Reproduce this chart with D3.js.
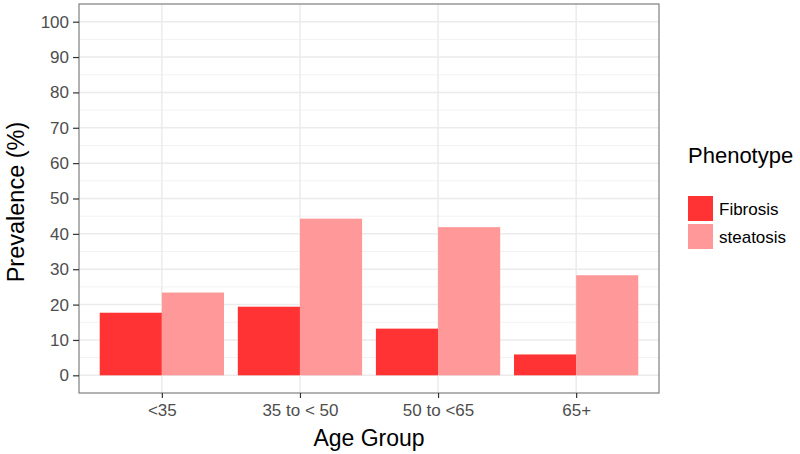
<!DOCTYPE html>
<html>
<head>
<meta charset="utf-8">
<script src="https://cdn.jsdelivr.net/npm/d3@7"></script>
<style>
  body { margin: 0; background: #fff; }
  text { font-family: "Liberation Sans", Arial, sans-serif; }
</style>
</head>
<body>
<div class="core_div"></div>
<script>
// data
var ageGroups = ["<35", "35 to < 50", "50 to <65", "65+"];
var phenotypes = ["Fibrosis", "steatosis"];
var fibrosis = [17.7, 19.4, 13.2, 5.9];
var steatosis = [23.4, 44.3, 41.9, 28.3];
var yTicks = [0, 10, 20, 30, 40, 50, 60, 70, 80, 90, 100];
var colours = ["#FF3333", "#FF9999"];

var width = 800, height = 454;
// panel box
var panel = {left: 79, right: 659, top: 4, bottom: 393};

var svg = d3.select(".core_div").append("svg")
    .attr("width", width)
    .attr("height", height);

var x = d3.scalePoint()
    .domain(ageGroups)
    .range([panel.left, panel.right])
    .padding(0.6);

var step = x.step();
var barW = step * 0.45;

var y = d3.scaleLinear()
    .domain([-5, 105])
    .range([panel.bottom, panel.top]);

// minor grid
var minor = d3.range(5, 105, 10);
svg.append("g").selectAll("line")
    .data(minor)
  .enter().append("line")
    .attr("x1", panel.left).attr("x2", panel.right)
    .attr("y1", function(d) { return y(d); })
    .attr("y2", function(d) { return y(d); })
    .style("stroke", "#f2f2f2").style("stroke-width", 1);

// major grid
svg.append("g").selectAll("line")
    .data(yTicks)
  .enter().append("line")
    .attr("x1", panel.left).attr("x2", panel.right)
    .attr("y1", function(d) { return y(d); })
    .attr("y2", function(d) { return y(d); })
    .style("stroke", "#ebebeb").style("stroke-width", 1.5);

svg.append("g").selectAll("line")
    .data(ageGroups)
  .enter().append("line")
    .attr("y1", panel.top).attr("y2", panel.bottom)
    .attr("x1", function(d) { return x(d); })
    .attr("x2", function(d) { return x(d); })
    .style("stroke", "#ebebeb").style("stroke-width", 1.5);

// bars
var series = [fibrosis, steatosis];
series.forEach(function(vals, s) {
  svg.append("g").selectAll("rect")
      .data(vals)
    .enter().append("rect")
      .attr("x", function(d, i) { return x(ageGroups[i]) - barW + s * barW; })
      .attr("width", barW)
      .attr("y", function(d) { return y(d); })
      .attr("height", function(d) { return y(0) - y(d); })
      .style("fill", colours[s]);
});

// panel border
svg.append("rect")
    .attr("x", panel.left).attr("y", panel.top)
    .attr("width", panel.right - panel.left)
    .attr("height", panel.bottom - panel.top)
    .style("fill", "none")
    .style("stroke", "#7f7f7f")
    .style("stroke-width", 1.2);

// axes
var yAxis = svg.append("g")
    .attr("transform", "translate(" + panel.left + ",0)")
    .call(d3.axisLeft(y).tickValues(yTicks).tickSize(6).tickPadding(4));
var xAxis = svg.append("g")
    .attr("transform", "translate(0," + panel.bottom + ")")
    .call(d3.axisBottom(x).tickSize(5).tickPadding(6));

[yAxis, xAxis].forEach(function(a) {
  a.select(".domain").remove();
  a.selectAll(".tick line").style("stroke", "#333").style("stroke-width", 1.2);
  a.selectAll(".tick text")
      .style("font-size", "17px")
      .style("fill", "#4d4d4d")
      .style("font-family", "'Liberation Sans', Arial, sans-serif");
});

// axis titles
svg.append("text")
    .attr("x", (panel.left + panel.right) / 2)
    .attr("y", 446)
    .attr("text-anchor", "middle")
    .style("font-size", "23px")
    .text("Age Group");

svg.append("text")
    .attr("transform", "translate(24,202) rotate(-90)")
    .attr("text-anchor", "middle")
    .style("font-size", "23.5px")
    .text("Prevalence (%)");

// legend
var legend = svg.append("g").attr("transform", "translate(688,0)");
legend.append("text")
    .attr("x", 0).attr("y", 163)
    .style("font-size", "22px")
    .text("Phenotype");

var key = legend.selectAll("g.key")
    .data(phenotypes)
  .enter().append("g")
    .attr("class", "key")
    .attr("transform", function(d, i) { return "translate(0," + (196 + i * 28) + ")"; });
key.append("rect")
    .attr("width", 25).attr("height", 25)
    .style("fill", function(d, i) { return colours[i]; });
key.append("text")
    .attr("x", 31).attr("y", 13).attr("dy", ".35em")
    .style("font-size", "17px")
    .text(function(d) { return d; });
</script>
</body>
</html>
